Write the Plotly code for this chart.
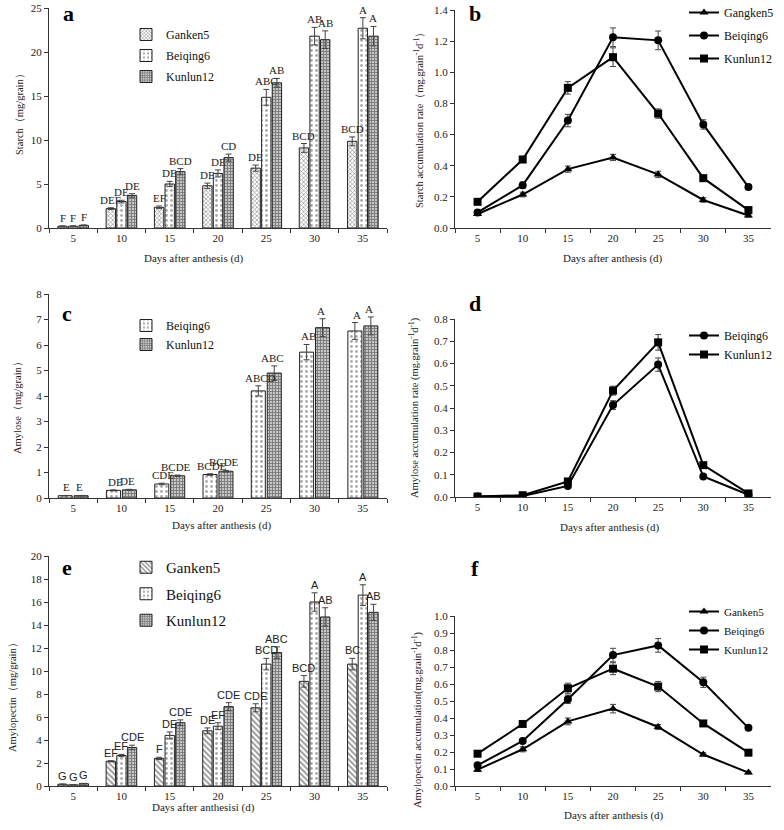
import plotly.graph_objects as go

W, H = 784, 830

days = ["5", "10", "15", "20", "25", "30", "35"]

# Panel a: starch (mg/grain)
starch_ganken5 = [0.2, 2.2, 2.35, 4.8, 6.8, 9.1, 9.85]
starch_beiqing6 = [0.2, 3.0, 5.0, 6.2, 14.85, 21.8, 22.7]
starch_kunlun12 = [0.3, 3.7, 6.4, 8.0, 16.5, 21.4, 21.8]
starch_ganken5_err = [0.05, 0.1, 0.15, 0.3, 0.35, 0.5, 0.5]
starch_beiqing6_err = [0.05, 0.15, 0.3, 0.4, 0.9, 1.0, 1.2]
starch_kunlun12_err = [0.05, 0.2, 0.35, 0.4, 0.5, 1.0, 1.1]
starch_ganken5_lbl = ["F", "DEF", "EF", "DE", "DE", "BCD", "BCD"]
starch_beiqing6_lbl = ["F", "DE", "DE", "DE", "ABC", "AB", "A"]
starch_kunlun12_lbl = ["F", "DE", "BCD", "CD", "AB", "AB", "A"]

# Panel b: starch accumulation rate
srate_gangken5 = [0.09, 0.215, 0.378, 0.453, 0.344, 0.18, 0.08]
srate_beiqing6 = [0.1, 0.275, 0.69, 1.225, 1.205, 0.665, 0.263]
srate_kunlun12 = [0.168, 0.44, 0.9, 1.097, 0.735, 0.32, 0.115]
srate_gangken5_err = [0.01, 0.015, 0.02, 0.02, 0.02, 0.015, 0.01]
srate_beiqing6_err = [0.01, 0.02, 0.04, 0.06, 0.06, 0.03, 0.015]
srate_kunlun12_err = [0.01, 0.02, 0.04, 0.06, 0.03, 0.015, 0.01]

# Panel c: amylose (mg/grain)
amylose_beiqing6 = [0.09, 0.3, 0.55, 0.92, 4.2, 5.72, 6.55]
amylose_kunlun12 = [0.09, 0.32, 0.87, 1.05, 4.9, 6.68, 6.75]
amylose_beiqing6_err = [0.01, 0.02, 0.03, 0.03, 0.2, 0.3, 0.33]
amylose_kunlun12_err = [0.01, 0.02, 0.03, 0.03, 0.28, 0.35, 0.35]
amylose_beiqing6_lbl = ["E", "DE", "CDE", "BCDE", "ABCD", "AB", "A"]
amylose_kunlun12_lbl = ["E", "DE", "BCDE", "BCDE", "ABC", "A", "A"]

# Panel d: amylose accumulation rate
arate_beiqing6 = [0.002, 0.005, 0.05, 0.413, 0.595, 0.092, 0.01]
arate_kunlun12 = [0.002, 0.008, 0.07, 0.478, 0.695, 0.143, 0.016]
arate_beiqing6_err = [0.0, 0.002, 0.005, 0.02, 0.03, 0.005, 0.002]
arate_kunlun12_err = [0.0, 0.002, 0.005, 0.02, 0.035, 0.008, 0.002]

# Panel e: amylopectin (mg/grain)
apec_ganken5 = [0.15, 2.15, 2.4, 4.8, 6.8, 9.1, 10.6]
apec_beiqing6 = [0.1, 2.65, 4.4, 5.2, 10.6, 16.0, 16.6]
apec_kunlun12 = [0.2, 3.35, 5.5, 6.9, 11.6, 14.7, 15.1]
apec_ganken5_err = [0.03, 0.05, 0.1, 0.25, 0.35, 0.5, 0.5]
apec_beiqing6_err = [0.02, 0.1, 0.3, 0.3, 0.5, 0.8, 0.9]
apec_kunlun12_err = [0.03, 0.2, 0.25, 0.35, 0.5, 0.8, 0.7]
apec_ganken5_lbl = ["G", "EF", "F", "DE", "CDE", "BCD", "BC"]
apec_beiqing6_lbl = ["G", "EF", "DE", "EF", "BCD", "A", "A"]
apec_kunlun12_lbl = ["G", "CDE", "CDE", "CDE", "ABC", "AB", "AB"]

# Panel f: amylopectin accumulation rate
prate_ganken5 = [0.096, 0.216, 0.38, 0.455, 0.347, 0.185, 0.079]
prate_beiqing6 = [0.122, 0.265, 0.51, 0.77, 0.827, 0.61, 0.342]
prate_kunlun12 = [0.19, 0.365, 0.575, 0.69, 0.585, 0.368, 0.196]
prate_ganken5_err = [0.01, 0.015, 0.02, 0.025, 0.015, 0.01, 0.008]
prate_beiqing6_err = [0.01, 0.015, 0.025, 0.04, 0.04, 0.03, 0.01]
prate_kunlun12_err = [0.01, 0.015, 0.03, 0.035, 0.03, 0.01, 0.01]

SERIF = "Liberation Serif, Times New Roman, serif"
SANS = "Liberation Sans, Arial, sans-serif"
AX = "#333333"

# pixel boxes: (x0, x1, y_top, y_bottom)
boxes = {
    "a": (49, 387, 8, 228),
    "b": (455, 771, 10, 228),
    "c": (49, 387, 294, 498),
    "d": (455, 771, 319, 497),
    "e": (49, 387, 556, 786),
    "f": (455, 771, 616, 786),
}
ranges = {"a": [0, 25], "b": [0, 1.4], "c": [0, 8], "d": [0, 0.8], "e": [0, 20], "f": [0, 1.0]}
dticks = {"a": 5, "b": 0.2, "c": 1, "d": 0.1, "e": 2, "f": 0.1}
tfmt = {"a": "d", "b": ".1f", "c": "d", "d": ".1f", "e": "d", "f": ".1f"}
axid = {"a": "", "b": "2", "c": "3", "d": "4", "e": "5", "f": "6"}

fig = go.Figure()
layout = dict(width=W, height=H, margin=dict(l=0, r=0, t=0, b=0, autoexpand=False),
              paper_bgcolor="white", plot_bgcolor="white", showlegend=True,
              barmode="group")

for k, (x0, x1, yt, yb) in boxes.items():
    n = axid[k]
    layout["xaxis" + n] = dict(domain=[x0 / W, x1 / W], anchor="y" + n, type="category",
                               categoryorder="array", categoryarray=days,
                               range=[-0.5, len(days) - 0.5], automargin=False,
                               showline=True, linecolor=AX, linewidth=1, ticks="outside",
                               tickson="boundaries", ticklen=4, tickcolor=AX, showgrid=False,
                               zeroline=False, tickfont=dict(family=SERIF, size=11, color="#222"),
                               fixedrange=True)
    layout["yaxis" + n] = dict(domain=[(H - yb) / H, (H - yt) / H], anchor="x" + n,
                               range=ranges[k], dtick=dticks[k], tickformat=tfmt[k],
                               automargin=False,
                               showline=True, linecolor=AX, linewidth=1, ticks="outside",
                               ticklen=4, tickcolor=AX, showgrid=False, zeroline=False,
                               tickfont=dict(family=SERIF, size=11, color="#222"),
                               fixedrange=True)

pat_g_a = dict(shape="x", fgcolor="#222", bgcolor="white", size=3, solidity=0.4)
pat_g_e = dict(shape="\\", fgcolor="#222", bgcolor="white", size=4, solidity=0.45)
pat_b = dict(shape=".", fgcolor="#555", bgcolor="white", size=5, solidity=0.25)
pat_k = dict(shape="+", fgcolor="#000", bgcolor="white", size=3, solidity=0.75)

annotations = []


def bars(panel, series, legend, bargap_frac, font_family):
    n = axid[panel]
    x0, x1 = boxes[panel][0], boxes[panel][1]
    cw = (x1 - x0) / len(days)
    gw = cw * (1 - bargap_frac)
    ns = len(series)
    slot = gw / ns
    for i, (name, vals, errs, lbls, pat) in enumerate(series):
        fig.add_trace(go.Bar(
            x=days, y=vals, name=name, xaxis="x" + n, yaxis="y" + n,
            marker=dict(color="white", pattern=pat, line=dict(color="#222", width=1)),
            error_y=dict(type="data", array=errs, color="#444", thickness=1, width=3),
            legend=legend, legendgroup=panel + name,
        ))
        off = (i - (ns - 1) / 2) * slot
        for j, (v, e, t) in enumerate(zip(vals, errs, lbls)):
            annotations.append(dict(x=j, y=v + e, xref="x" + n, yref="y" + n, text=t,
                                    showarrow=False, yanchor="bottom", xshift=off, yshift=0,
                                    font=dict(family=font_family, size=11, color="#222")))


def lines(panel, series, legend):
    n = axid[panel]
    for name, vals, errs, sym in series:
        fig.add_trace(go.Scatter(
            x=days, y=vals, name=name, xaxis="x" + n, yaxis="y" + n, mode="lines+markers",
            line=dict(color="black", width=2),
            marker=dict(symbol=sym, size=8, color="black"),
            error_y=dict(type="data", array=errs, color="#444", thickness=1, width=3),
            legend=legend, legendgroup=panel + name,
        ))


bars("a", [("Ganken5", starch_ganken5, starch_ganken5_err, starch_ganken5_lbl, pat_g_a),
           ("Beiqing6", starch_beiqing6, starch_beiqing6_err, starch_beiqing6_lbl, pat_b),
           ("Kunlun12", starch_kunlun12, starch_kunlun12_err, starch_kunlun12_lbl, pat_k)],
     "legend", 0.34, SERIF)
lines("b", [("Gangken5", srate_gangken5, srate_gangken5_err, "triangle-up"),
            ("Beiqing6", srate_beiqing6, srate_beiqing6_err, "circle"),
            ("Kunlun12", srate_kunlun12, srate_kunlun12_err, "square")], "legend2")
bars("c", [("Beiqing6", amylose_beiqing6, amylose_beiqing6_err, amylose_beiqing6_lbl, pat_b),
           ("Kunlun12", amylose_kunlun12, amylose_kunlun12_err, amylose_kunlun12_lbl, pat_k)],
     "legend3", 0.48, SERIF)
lines("d", [("Beiqing6", arate_beiqing6, arate_beiqing6_err, "circle"),
            ("Kunlun12", arate_kunlun12, arate_kunlun12_err, "square")], "legend4")
bars("e", [("Ganken5", apec_ganken5, apec_ganken5_err, apec_ganken5_lbl, pat_g_e),
           ("Beiqing6", apec_beiqing6, apec_beiqing6_err, apec_beiqing6_lbl, pat_b),
           ("Kunlun12", apec_kunlun12, apec_kunlun12_err, apec_kunlun12_lbl, pat_k)],
     "legend5", 0.34, SANS)
lines("f", [("Ganken5", prate_ganken5, prate_ganken5_err, "triangle-up"),
            ("Beiqing6", prate_beiqing6, prate_beiqing6_err, "circle"),
            ("Kunlun12", prate_kunlun12, prate_kunlun12_err, "square")], "legend6")

layout["bargap"] = 0.34
layout["bargroupgap"] = 0.12


def leg(x, y, size, gap):
    return dict(x=x / W, y=(H - y) / H, xanchor="left", yanchor="top", bgcolor="rgba(0,0,0,0)",
                font=dict(family=SERIF, size=size, color="#111"), tracegroupgap=gap,
                traceorder="grouped", itemwidth=30)


layout["legend"] = leg(126, 20, 12, 2)
layout["legend2"] = leg(684, -2, 12, 4)
layout["legend3"] = leg(126, 311, 12, 0)
layout["legend4"] = leg(684, 321, 12, 0)
layout["legend5"] = leg(126, 551, 15, 4)
layout["legend6"] = leg(684, 597, 11, 0)

# panel letters
for k, (px, py) in {"a": (68, 13), "b": (475, 13), "c": (67, 313),
                    "d": (475, 303), "e": (67, 567), "f": (475, 568)}.items():
    annotations.append(dict(x=px / W, y=(H - py) / H, xref="paper", yref="paper", text=k,
                            showarrow=False, xanchor="center", yanchor="middle",
                            font=dict(family=SERIF, size=22, color="black", weight="bold")))

# axis titles
xtitles = [("Days after anthesis (d)", 194, 258), ("Days after anthesis (d)", 613, 258),
           ("Days after anthesis (d)", 222, 525), ("Days after anthesis (d)", 610, 527),
           ("Days after anthesisi (d)", 203, 807), ("Days after anthesis (d)", 614, 815)]
for t, px, py in xtitles:
    annotations.append(dict(x=px / W, y=(H - py) / H, xref="paper", yref="paper", text=t,
                            showarrow=False, xanchor="center", yanchor="middle",
                            font=dict(family=SERIF, size=11, color="#222")))

ytitles = [("Starch（mg/grain）", 20, 112),
           ("Starch accumulation rate（mg.grain<sup>-1</sup>d<sup>-1</sup>）", 418, 117),
           ("Amylose（mg/grain）", 18, 405),
           ("Amylose accumulation rate (mg.grain<sup>-1</sup>d<sup>-1</sup>)", 414, 407),
           ("Amylopectin（mg/grain）", 12, 695),
           ("Amylopectin accumulation(mg.grain<sup>-1</sup>d<sup>-1</sup>)", 417, 720)]
for t, px, py in ytitles:
    annotations.append(dict(x=px / W, y=(H - py) / H, xref="paper", yref="paper", text=t,
                            showarrow=False, xanchor="center", yanchor="middle", textangle=-90,
                            font=dict(family=SERIF, size=10.5, color="#222")))

layout["annotations"] = annotations
fig.update_layout(**layout)
fig.write_html("out.html", config={"displayModeBar": False},
               post_script="document.body.style.margin='0';")
